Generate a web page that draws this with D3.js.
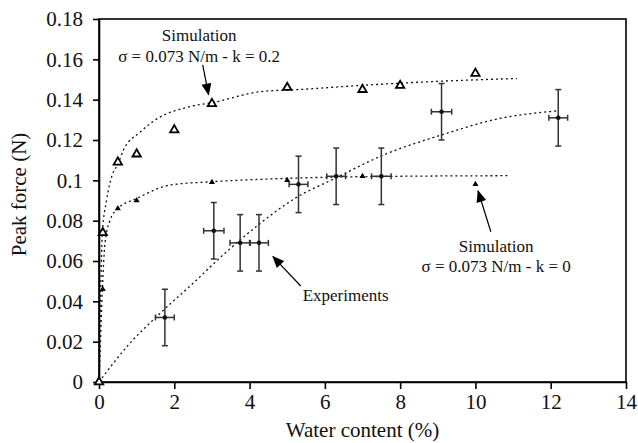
<!DOCTYPE html>
<html>
<head>
<meta charset="UTF-8">
<script src="https://d3js.org/d3.v7.min.js"></script>
</head>
<body style="margin:0">
<svg id="chart" width="638" height="443" font-family="Liberation Serif"></svg>
<script>
// ---- data ----
const xTicks = [0, 2, 4, 6, 8, 10, 12, 14];
const yTicks = [0, 0.02, 0.04, 0.06, 0.08, 0.1, 0.12, 0.14, 0.16, 0.18];

// simulation, sigma = 0.073 N/m, k = 0.2 (open triangles)
const simK02Water = [0, 0.1, 0.5, 1, 2, 3, 5, 7, 8, 10];
const simK02Force = [0, 0.074, 0.109, 0.113, 0.125, 0.138, 0.146, 0.145, 0.147, 0.153];

// simulation, sigma = 0.073 N/m, k = 0 (filled triangles)
const simK0Water = [0.1, 0.5, 1, 3, 5, 7, 10];
const simK0Force = [0.046, 0.086, 0.090, 0.099, 0.100, 0.102, 0.098];

// experiments with error bars
const expWater = [1.75, 3.05, 3.75, 4.25, 5.3, 6.3, 7.5, 9.1, 12.2];
const expForce = [0.032, 0.075, 0.069, 0.069, 0.098, 0.102, 0.102, 0.134, 0.131];
const expWaterErr = [0.25, 0.27, 0.27, 0.25, 0.25, 0.25, 0.26, 0.27, 0.25];
const expForceErr = [0.014, 0.014, 0.014, 0.014, 0.014, 0.014, 0.014, 0.014, 0.014];

// dotted trend curves
const fitK02Water = [0, 0.03, 0.09, 0.2, 0.34, 0.5, 0.65, 1.1, 1.5, 2.4, 3, 4.3, 5.3, 6.9, 8.9, 11.1];
const fitK02Force = [0, 0.032, 0.074, 0.090, 0.102, 0.108, 0.115, 0.124, 0.130, 0.1365, 0.1385, 0.144, 0.145, 0.147, 0.149, 0.1505];
const fitK0Water = [0, 0.03, 0.09, 0.16, 0.29, 0.5, 1, 1.9, 3, 4.3, 6.9, 10.9];
const fitK0Force = [0, 0.015, 0.046, 0.069, 0.080, 0.086, 0.091, 0.0977, 0.0993, 0.1005, 0.1018, 0.1023];
const fitExpWater = [0, 0.74, 1.62, 2.5, 3.39, 4.28, 5.2, 6.27, 7.55, 9.1, 10.65, 12.16];
const fitExpForce = [0, 0.0175, 0.034, 0.049, 0.0646, 0.0786, 0.091, 0.101, 0.1125, 0.1225, 0.1307, 0.1344];

// annotations (data units)
const notes = [
  { lines: ["Simulation", "\u03c3 = 0.073 N/m - k = 0.2"], x: 2.66, y: [0.1691, 0.1588], anchor: "middle",
    arrow: [[2.755, 0.1572], [2.91, 0.1425]] },
  { lines: ["Simulation", "\u03c3 = 0.073 N/m - k = 0"], x: 10.55, y: [0.0646, 0.0544], anchor: "middle",
    arrow: [[10.41, 0.0745], [10.07, 0.0947]] },
  { lines: ["Experiments"], x: 5.41, y: [0.0403], anchor: "start",
    arrow: [[5.36, 0.0476], [4.62, 0.0622]] }
];

// ---- chart ----
const width = 638, height = 443;
const margin = { top: 19, right: 12, bottom: 61, left: 99 };
const face = "Liberation Serif";

const svg = d3.select("#chart");

svg.append("defs").append("marker")
  .attr("id", "head")
  .attr("viewBox", "0 0 12 10")
  .attr("refX", 11).attr("refY", 5)
  .attr("markerWidth", 13).attr("markerHeight", 10)
  .attr("markerUnits", "userSpaceOnUse")
  .attr("orient", "auto")
  .append("path")
  .attr("d", "M0,0 L12,5 L0,10 Z")
  .attr("fill", "#000");

const x = d3.scaleLinear().domain([0, 14]).range([margin.left, width - margin.right]);
const y = d3.scaleLinear().domain([0, 0.18]).range([height - margin.bottom, margin.top]);

const fmt = d => String(+d.toFixed(2));

svg.append("rect")
  .attr("x", x(0)).attr("y", y(0.18))
  .attr("width", x(14) - x(0)).attr("height", y(0) - y(0.18))
  .attr("fill", "none").attr("stroke", "#000").attr("stroke-width", 1.6);

const styleAxis = g => {
  g.attr("font-family", face).attr("font-size", 21);
  g.selectAll("path, line").attr("stroke", "#000").attr("stroke-width", 1.6);
  g.selectAll("text").attr("font-family", face).attr("font-size", 21).attr("fill", "#111");
};

svg.append("g")
  .attr("transform", `translate(0,${y(0)})`)
  .call(d3.axisBottom(x).tickValues(xTicks).tickFormat(fmt).tickSize(7).tickPadding(5).tickSizeOuter(0))
  .call(styleAxis);

svg.append("g")
  .attr("transform", `translate(${x(0)},0)`)
  .call(d3.axisLeft(y).tickValues(yTicks).tickFormat(fmt).tickSize(6).tickPadding(10).tickSizeOuter(0))
  .call(styleAxis);

// axis titles
svg.append("text")
  .attr("font-family", face).attr("font-size", 21).attr("fill", "#111")
  .attr("x", (x(0) + x(14)) / 2).attr("y", 437)
  .attr("text-anchor", "middle")
  .text("Water content (%)");

svg.append("text")
  .attr("font-family", face).attr("font-size", 21).attr("fill", "#111")
  .attr("transform", `translate(26,${(y(0) + y(0.18)) / 2 - 6}) rotate(-90)`)
  .attr("text-anchor", "middle")
  .text("Peak force (N)");

// trend curves
const line = d3.line().x(d => x(d[0])).y(d => y(d[1])).curve(d3.curveMonotoneX);
[[fitK02Water, fitK02Force], [fitK0Water, fitK0Force], [fitExpWater, fitExpForce]].forEach(([xs, ys]) => {
  svg.append("path")
    .attr("d", line(d3.zip(xs, ys)))
    .attr("fill", "none").attr("stroke", "#111").attr("stroke-width", 1.3)
    .attr("stroke-dasharray", "2,3");
});

// error bars
const expData = expWater.map((w, i) => ({ w, f: expForce[i], ew: expWaterErr[i], ef: expForceErr[i] }));
const cap = 3;
const eb = svg.append("g").attr("stroke", "#333").attr("stroke-width", 1.5);
expData.forEach(d => {
  const cx = x(d.w), cy = y(d.f);
  const x0 = x(d.w - d.ew), x1 = x(d.w + d.ew);
  const y0 = y(d.f - d.ef), y1 = y(d.f + d.ef);
  eb.append("line").attr("x1", cx).attr("x2", cx).attr("y1", y0).attr("y2", y1);
  eb.append("line").attr("x1", cx - cap).attr("x2", cx + cap).attr("y1", y0).attr("y2", y0);
  eb.append("line").attr("x1", cx - cap).attr("x2", cx + cap).attr("y1", y1).attr("y2", y1);
  eb.append("line").attr("x1", x0).attr("x2", x1).attr("y1", cy).attr("y2", cy);
  eb.append("line").attr("x1", x0).attr("x2", x0).attr("y1", cy - cap).attr("y2", cy + cap);
  eb.append("line").attr("x1", x1).attr("x2", x1).attr("y1", cy - cap).attr("y2", cy + cap);
});

svg.append("g").selectAll("circle")
  .data(expData).join("circle")
  .attr("cx", d => x(d.w)).attr("cy", d => y(d.f))
  .attr("r", 2.3).attr("fill", "#111");

// simulation markers
const tri = d3.symbol().type(d3.symbolTriangle);
svg.append("g").selectAll("path")
  .data(d3.zip(simK0Water, simK0Force)).join("path")
  .attr("transform", d => `translate(${x(d[0])},${y(d[1])})`)
  .attr("d", tri.size(16)())
  .attr("fill", "#000");

svg.append("g").selectAll("path")
  .data(d3.zip(simK02Water, simK02Force)).join("path")
  .attr("transform", d => `translate(${x(d[0])},${y(d[1])})`)
  .attr("d", tri.size(30)())
  .attr("fill", "#fff").attr("stroke", "#000").attr("stroke-width", 1.8);

// annotations
notes.forEach(n => {
  n.lines.forEach((t, i) => {
    svg.append("text")
      .attr("font-family", face).attr("font-size", 17).attr("fill", "#111")
      .attr("x", x(n.x)).attr("y", y(n.y[i]))
      .attr("text-anchor", n.anchor)
      .text(t);
  });
  svg.append("line")
    .attr("x1", x(n.arrow[0][0])).attr("y1", y(n.arrow[0][1]))
    .attr("x2", x(n.arrow[1][0])).attr("y2", y(n.arrow[1][1]))
    .attr("stroke", "#000").attr("stroke-width", 1.2)
    .attr("marker-end", "url(#head)");
});
</script>
</body>
</html>
